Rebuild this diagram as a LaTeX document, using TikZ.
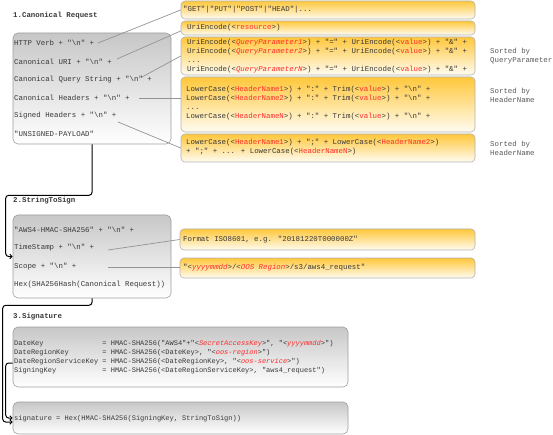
\documentclass[tikz,border=0pt]{standalone}
\usepackage{fontspec}
\newfontfamily\mono{Liberation Mono}
\usetikzlibrary{fit,arrows.meta}
\definecolor{txt}{HTML}{383838}
\definecolor{phred}{HTML}{FF2A2A}
\definecolor{ytop}{HTML}{FFC73A}
\definecolor{ybot}{HTML}{FFFCF2}
\newcommand\rd[1]{\textcolor{phred}{#1}}
\newcommand\ri[1]{\textcolor{phred}{\itshape #1}}
\newcommand\nl{"\textbackslash n"}
\begin{document}
\begin{tikzpicture}[x=1pt,y=-1pt,
  gbox/.style={draw=black!38, line width=0.6pt, rounded corners=5pt, top color=black!22, bottom color=white, inner sep=0pt},
  ybox/.style={draw=black!30, line width=0.6pt, rounded corners=4pt, top color=ytop, bottom color=ybot, inner sep=0pt},
  txtst/.style={anchor=west, inner sep=0pt, text=txt, font=\mono\fontsize{7.4}{9}\selectfont, align=left},
  tsmall/.style={txtst, font=\mono\fontsize{7}{9}\selectfont},
  ttl/.style={txtst, font=\mono\bfseries\fontsize{7.4}{9}\selectfont},
  notest/.style={txtst, text=black!65},
  lnk/.style={draw=black!42, line width=0.7pt},
  flow/.style={draw=black, line width=1pt, rounded corners=3pt, -{Straight Barb[length=2.2pt,width=4.5pt]}}]
\useasboundingbox (0,0) rectangle (553,435);

% ---------- 1. Canonical Request ----------
\node[ttl] (t1) at (13,16) {1.Canonical Request};
\node[gbox, fit={(13,33)(171,144)}] (R) {};
\node[txtst] (r1) at (14,43) {HTTP Verb + \nl{} +};
\node[txtst] (r2) at (14,62) {Canonical URI + \nl{} +};
\node[txtst] (r3) at (14,80) {Canonical Query String + \nl{} +};
\node[txtst] (r4) at (14,98) {Canonical Headers + \nl{} +};
\node[txtst] (r5) at (14,116) {Signed Headers + \nl{} +};
\node[txtst] (r6) at (14,134) {"UNSIGNED-PAYLOAD"};

\node[ybox, fit={(181,1)(475,19)}] (A) {};
\node[txtst] (a0) at (183,10) {"GET"|"PUT"|"POST"|"HEAD"|...};
\node[ybox, fit={(181,21)(475,35)}] (B) {};
\node[txtst] (b0) at (187,28) {UriEncode(<\rd{resource}>)};
\node[ybox, fit={(181,37)(475,75)}] (C) {};
\node[txtst] (c0) at (187,56.5) {UriEncode(<\ri{QueryParameter1}>) + "=" + UriEncode(<\rd{value}>) + "\&" +\\
UriEncode(<\ri{QueryParameter2}>) + "=" + UriEncode(<\rd{value}>) + "\&" +\\
...\\
UriEncode(<\ri{QueryParameterN}>) + "=" + UriEncode(<\rd{value}>) + "\&" +};
\node[ybox, fit={(181,77)(475,132)}] (D) {};
\node[txtst] (d0) at (186,103.5) {LowerCase(<\rd{HeaderName1}>) + ":" + Trim(<\rd{value}>) + \nl{} +\\
LowerCase(<\rd{HeaderName2}>) + ":" + Trim(<\rd{value}>) + \nl{} +\\
...\\
LowerCase(<\rd{HeaderNameN}>) + ":" + Trim(<\rd{value}>) + \nl{} +};
\node[ybox, fit={(181,134)(475,162)}] (E) {};
\node[txtst] (e0) at (186,147.5) {LowerCase(<\rd{HeaderName1}>) + ";" + LowerCase(<\rd{HeaderName2}>)\\
+ ";" + ... + LowerCase(<\rd{HeaderNameN}>)};

\node[notest] (n1) at (490,56.5) {Sorted by\\QueryParameter};
\node[notest] (n2) at (490,95.5) {Sorted by\\HeaderName};
\node[notest] (n3) at (490,148) {Sorted by\\HeaderName};

\coordinate (c1) at (98,43);
\coordinate (c2) at (117,59);
\coordinate (c3) at (142,77);
\coordinate (c4) at (139,98);
\coordinate (c5) at (118,122);
\draw[lnk] (c1) -- (A.west);
\draw[lnk] (c2) -- ([yshift=-3pt]B.west);
\draw[lnk] (c3) -- (C.west);
\draw[lnk] (c4) -- ([yshift=6.5pt]D.west);
\draw[lnk] (c5) -- (E.west);

% ---------- 2. StringToSign ----------
\node[ttl] (t2) at (13,201) {2.StringToSign};
\node[gbox, fit={(13,215)(171,298)}] (S) {};
\node[txtst] (s1) at (14,230) {"AWS4-HMAC-SHA256" + \nl{} +};
\node[txtst] (s2) at (14,248) {TimeStamp + \nl{} +};
\node[txtst] (s3) at (14,267) {Scope + \nl{} +};
\node[txtst] (s4) at (14,285) {Hex(SHA256Hash(Canonical Request))};

\node[ybox, fit={(180,229)(475,250)}] (F) {};
\node[txtst] (f0) at (183,240) {Format ISO8601, e.g. "20181220T000000Z"};
\node[ybox, fit={(180,258)(475,278)}] (G) {};
\node[txtst] (g0) at (183,268) {"<\ri{yyyymmdd}>/<\ri{OOS Region}>/s3/aws4\_request"};

\coordinate (c6) at (108,250);
\coordinate (c7) at (108,267);
\draw[lnk] (c6) -- (F.west);
\draw[lnk] (c7) -- ([yshift=1pt]G.west);

% ---------- 3. Signature ----------
\node[ttl] (t3) at (13,317) {3.Signature};
\node[gbox, fit={(13,327)(348,387)}] (Y) {};
\node[tsmall] (y0) at (14,357.5) {DateKey~~~~~~~~~~~~~ = HMAC-SHA256("AWS4"+"<\ri{SecretAccessKey}>", "<\ri{yyyymmdd}>")\\
DateRegionKey~~~~~~~ = HMAC-SHA256(<DateKey>, "<\ri{oos-region}>")\\
DateRegionServiceKey = HMAC-SHA256(<DateRegionKey>, "<\ri{oos-service}>")\\
SigningKey~~~~~~~~~~ = HMAC-SHA256(<DateRegionServiceKey>, "aws4\_request")};
\node[gbox, fit={(13,402)(348,434)}] (Z) {};
\node[tsmall] (z0) at (14,419) {signature = Hex(HMAC-SHA256(SigningKey, StringToSign))};

% ---------- flow connectors ----------
\draw[flow] (R.south) -- ++(0,51) -| ([xshift=-7pt]S.west) -- (S.west);
\draw[flow] (S.south) -- ++(0,7) -| ([xshift=-10pt,yshift=-4pt]Z.west) -- ([yshift=-4pt]Z.west);
\draw[flow] ([yshift=-6pt]Y.west) -- ++(-7,0) |- (Z.west);
\end{tikzpicture}
\end{document}
